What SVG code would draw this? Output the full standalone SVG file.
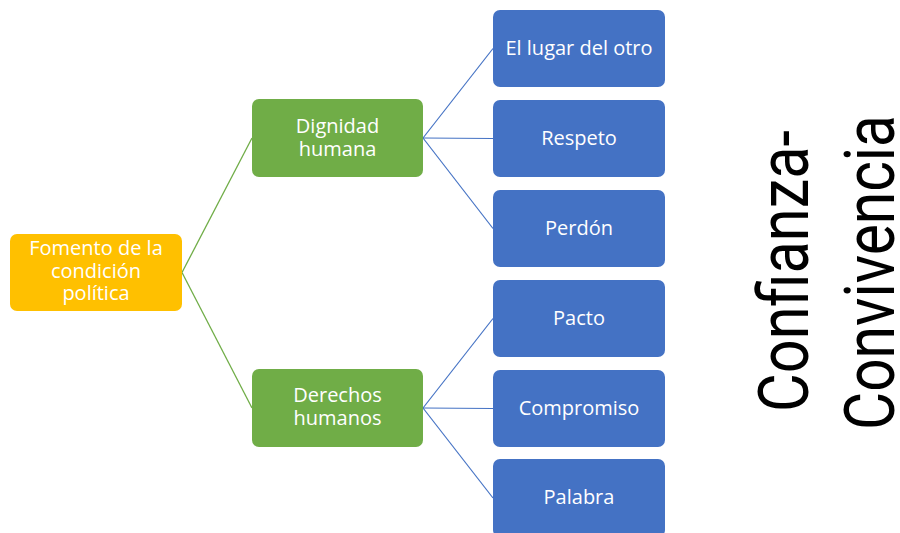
<svg xmlns="http://www.w3.org/2000/svg" width="900" height="533" viewBox="0 0 900 533">
<style>
.lbl{font-family:"Open Sans","Liberation Sans",sans-serif;font-size:20px;fill:#ffffff;text-anchor:middle}
.or{fill:#FFC000}
.gr{fill:#70AD47}
.bl{fill:#4472C4}
.cg{stroke:#70AD47;stroke-width:1.3;fill:none}
.cb{stroke:#4472C4;stroke-width:1.2;fill:none}
.big{font-family:Roboto,"Liberation Sans",sans-serif;font-size:70px;fill:#000000}
</style>
<rect width="900" height="533" fill="#ffffff"/>
<g id="connectors">
<line class="cg" x1="182" y1="272.5" x2="252" y2="138"/>
<line class="cg" x1="182" y1="272.5" x2="252" y2="408"/>
<line class="cb" x1="423" y1="138" x2="493" y2="48.5"/>
<line class="cb" x1="423" y1="138" x2="493" y2="138.5"/>
<line class="cb" x1="423" y1="138" x2="493" y2="228.5"/>
<line class="cb" x1="423" y1="408" x2="493" y2="318.5"/>
<line class="cb" x1="423" y1="408" x2="493" y2="408.5"/>
<line class="cb" x1="423" y1="408" x2="493" y2="498"/>
</g>
<g id="fomento">
<rect class="or" x="10" y="234" width="172" height="77" rx="7"/>
<text class="lbl" x="96" y="255">Fomento de la</text>
<text class="lbl" x="96" y="277.5">condición</text>
<text class="lbl" x="96" y="300">política</text>
</g>
<g id="dignidad">
<rect class="gr" x="252" y="99" width="171" height="78" rx="7"/>
<text class="lbl" x="337.5" y="133">Dignidad</text>
<text class="lbl" x="337.5" y="155.5">humana</text>
</g>
<g id="derechos">
<rect class="gr" x="252" y="369" width="171" height="78" rx="7"/>
<text class="lbl" x="337.5" y="402">Derechos</text>
<text class="lbl" x="337.5" y="424.5">humanos</text>
</g>
<g id="lugar">
<rect class="bl" x="493" y="10" width="172" height="77" rx="7"/>
<text class="lbl" x="579" y="54.5">El lugar del otro</text>
</g>
<g id="respeto">
<rect class="bl" x="493" y="100" width="172" height="77" rx="7"/>
<text class="lbl" x="579" y="144.5">Respeto</text>
</g>
<g id="perdon">
<rect class="bl" x="493" y="190" width="172" height="77" rx="7"/>
<text class="lbl" x="579" y="234.5">Perdón</text>
</g>
<g id="pacto">
<rect class="bl" x="493" y="280" width="172" height="77" rx="7"/>
<text class="lbl" x="579" y="324.5">Pacto</text>
</g>
<g id="compromiso">
<rect class="bl" x="493" y="370" width="172" height="77" rx="7"/>
<text class="lbl" x="579" y="414.5">Compromiso</text>
</g>
<g id="palabra">
<rect class="bl" x="493" y="459" width="172" height="78" rx="7"/>
<text class="lbl" x="579" y="504">Palabra</text>
</g>
<g id="confianza">
<text class="big" transform="translate(808,412) rotate(-90)" textLength="282" lengthAdjust="spacingAndGlyphs">Confianza-</text>
<text class="big" transform="translate(894,430) rotate(-90)" textLength="315" lengthAdjust="spacingAndGlyphs">Convivencia</text>
</g>
</svg>
